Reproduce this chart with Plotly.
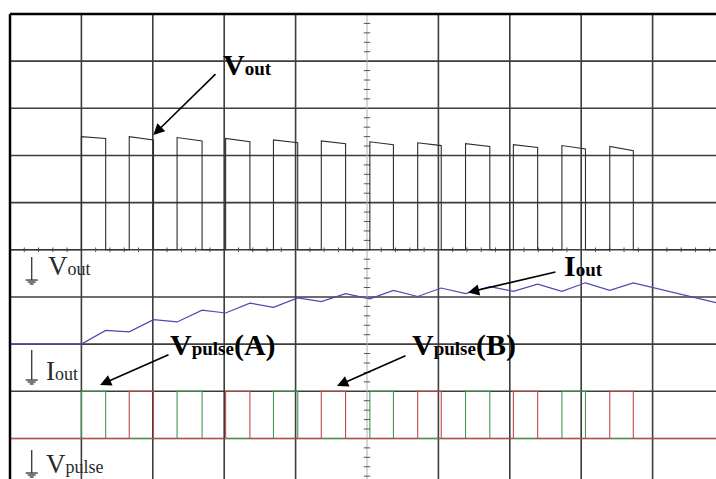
import plotly.graph_objects as go

# ---- data (in oscilloscope divisions; x = time div, y = div from bottom) ----
rise_t = [1.00, 1.67, 2.34, 3.02, 3.69, 4.36, 5.04, 5.71, 6.38, 7.05, 7.73, 8.40]
fall_t = [1.34, 2.01, 2.69, 3.36, 4.03, 4.70, 5.37, 6.04, 6.72, 7.39, 8.06, 8.73]
vout_top_start = [7.40, 7.40, 7.38, 7.36, 7.33, 7.31, 7.29, 7.27, 7.25, 7.23, 7.21, 7.19]
vout_top_end = [7.36, 7.33, 7.31, 7.29, 7.27, 7.25, 7.23, 7.21, 7.19, 7.17, 7.14, 7.10]
vout_low = 5.0

iout_start = 3.00
iout_at_rise = [3.00, 3.26, 3.47, 3.66, 3.78, 3.90, 3.96, 4.01, 4.07, 4.12, 4.12, 4.14]
iout_at_fall = [3.29, 3.52, 3.72, 3.87, 3.98, 4.07, 4.14, 4.19, 4.22, 4.27, 4.30, 4.30]
iout_end = 3.88

vpulse_low = 1.0
vpulse_high = 2.0
pulse_channel = ["A", "B", "A", "B", "A", "B", "A", "B", "A", "B", "A", "B"]

X_MAX = 9.888
Y_MIN = 0.14

# ---- build traces ----
fig = go.Figure()

# grid
shapes = []
grid_col = "#3d3d3d"
for k in range(1, 10):
    if k != 5:
        shapes.append(dict(type="line", xref="x", yref="y", x0=k, x1=k, y0=Y_MIN, y1=10,
                           line=dict(color=grid_col, width=1.6), layer="below"))
    shapes.append(dict(type="line", xref="x", yref="y", x0=0, x1=X_MAX, y0=k, y1=k,
                       line=dict(color=grid_col, width=1.6), layer="below"))
# centre vertical line (light) with minor ticks
shapes.append(dict(type="line", xref="x", yref="y", x0=5, x1=5, y0=Y_MIN, y1=10,
                   line=dict(color="#b0b0b0", width=1), layer="below"))
tx, ty = [], []
for i in range(1, 50):
    yy = i * 0.2
    if abs(yy - round(yy)) < 1e-6:
        continue
    tx += [5 - 0.045, 5 + 0.045, None]
    ty += [yy, yy, None]
for i in range(1, 50):
    xx = i * 0.2
    if abs(xx - round(xx)) < 1e-6 or xx > X_MAX:
        continue
    tx += [xx, xx, None]
    ty += [5 - 0.05, 5 + 0.05, None]
fig.add_trace(go.Scatter(x=tx, y=ty, mode="lines", line=dict(color="#555", width=1),
                         hoverinfo="skip"))

# border (top & left)
shapes.append(dict(type="line", xref="paper", yref="paper", x0=0, x1=1, y0=1, y1=1,
                   line=dict(color="black", width=2.5)))
shapes.append(dict(type="line", xref="paper", yref="paper", x0=0, x1=0, y0=0, y1=1,
                   line=dict(color="black", width=2.5)))

# Vout
vx, vy = [0], [vout_low]
for r, f, a, b in zip(rise_t, fall_t, vout_top_start, vout_top_end):
    vx += [r, r, f, f]
    vy += [vout_low, a, b, vout_low]
vx.append(X_MAX)
vy.append(vout_low)
fig.add_trace(go.Scatter(x=vx, y=vy, mode="lines", line=dict(color="#2e2e2e", width=1.1),
                         hoverinfo="skip"))

# Iout
ix, iy = [0], [iout_start]
for r, f, a, b in zip(rise_t, fall_t, iout_at_rise, iout_at_fall):
    ix += [r, f]
    iy += [a, b]
ix.append(X_MAX)
iy.append(iout_end)
fig.add_trace(go.Scatter(x=ix, y=iy, mode="lines", line=dict(color="#4a4ab0", width=1.2),
                         hoverinfo="skip"))

# Vpulse A (green) and B (red)
for ch, col in (("A", "#3f9a50"), ("B", "#c84848")):
    px_, py_ = [0], [vpulse_low]
    for r, f, c in zip(rise_t, fall_t, pulse_channel):
        if c == ch:
            px_ += [r, r, f, f]
            py_ += [vpulse_low, vpulse_high, vpulse_high, vpulse_low]
    px_.append(X_MAX)
    py_.append(vpulse_low)
    fig.add_trace(go.Scatter(x=px_, y=py_, mode="lines", line=dict(color=col, width=1.1),
                             hoverinfo="skip"))


# ground symbols
def ground(x, y0, y1, col="#333"):
    out = [dict(type="line", xref="x", yref="y", x0=x, x1=x, y0=y0, y1=y1,
                line=dict(color=col, width=1.3))]
    for hw, dy in ((0.085, 0.0), (0.056, 0.042), (0.028, 0.084)):
        out.append(dict(type="line", xref="x", yref="y", x0=x - hw, x1=x + hw,
                        y0=y1 - dy, y1=y1 - dy, line=dict(color=col, width=1.3)))
    return out


shapes += ground(0.304, 4.847, 4.359)
shapes += ground(0.304, 2.875, 2.239)
shapes += ground(0.304, 0.755, 0.267)

serif = "Liberation Serif, Times New Roman, serif"
ann = []


def label(x, y, main, sub, tail="", bold=True, size=30, subsize=19, col="black"):
    s = f"{main}<span style='font-size:{subsize}px'>{sub}</span>{tail}"
    if bold:
        s = f"<b>{s}</b>"
    ann.append(dict(x=x, y=y, xref="x", yref="y", text=s, showarrow=False,
                    xanchor="left", yanchor="middle",
                    font=dict(family=serif, size=size, color=col)))


label(2.95, 8.92, "V", "out")
label(7.73, 4.66, "I", "out")
label(2.21, 2.985, "V", "pulse", "(A)")
label(5.60, 2.985, "V", "pulse", "(B)")
label(0.50, 4.66, "V", "out", bold=False, size=27, subsize=18, col="#2a2a2a")
label(0.48, 2.435, "I", "out", bold=False, size=27, subsize=18, col="#2a2a2a")
label(0.48, 0.462, "V", "pulse", bold=False, size=27, subsize=18, col="#2a2a2a")


def arrow(tx_, ty_, hx, hy):
    ann.append(dict(x=hx, y=hy, ax=tx_, ay=ty_, xref="x", yref="y", axref="x", ayref="y",
                    text="", showarrow=True, arrowhead=2, arrowsize=1.4, arrowwidth=1.6,
                    arrowcolor="black", standoff=0))


arrow(2.899, 8.755, 2.007, 7.434)
arrow(7.661, 4.536, 6.415, 4.095)
arrow(2.241, 2.790, 1.261, 2.133)
arrow(5.560, 2.769, 4.580, 2.112)

fig.update_layout(
    width=716, height=479,
    margin=dict(l=10, r=0, t=14, b=0, pad=0, autoexpand=False),
    plot_bgcolor="white", paper_bgcolor="white",
    showlegend=False,
    xaxis=dict(range=[0, X_MAX], showgrid=False, zeroline=False, showticklabels=False,
               ticks="", showline=False, fixedrange=True),
    yaxis=dict(range=[Y_MIN, 10], showgrid=False, zeroline=False, showticklabels=False,
               ticks="", showline=False, fixedrange=True),
    shapes=shapes,
    annotations=ann,
)

fig.write_html("out.html")
